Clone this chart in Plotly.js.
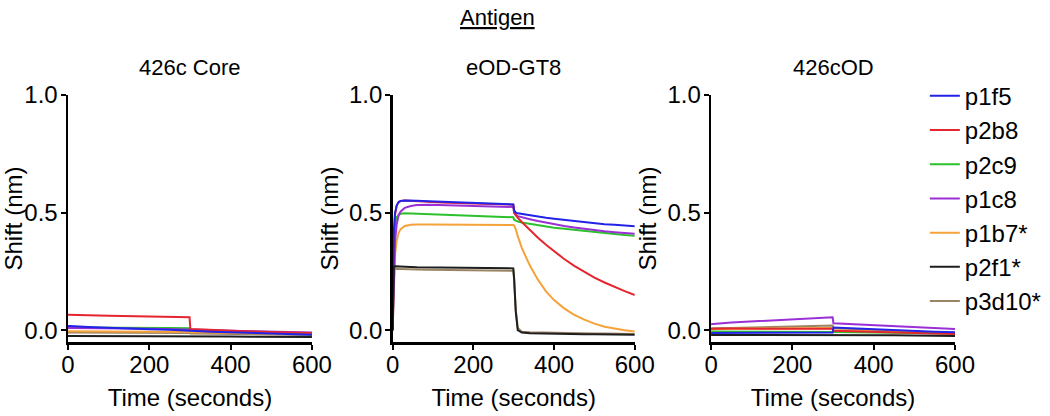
<!DOCTYPE html>
<html>
<head>
<meta charset="utf-8">
<script src="https://cdn.plot.ly/plotly-3.0.1.min.js"></script>
<style>
  body { margin: 0; background: #fff; }
  #chart { width: 1050px; height: 416px; }
</style>
</head>
<body>
<div id="chart"></div>
<script>
// ---- data ----
const names = ['p1f5', 'p2b8', 'p2c9', 'p1c8', 'p1b7*', 'p2f1*', 'p3d10*'];
const colors = ['#2222e8', '#e5262f', '#2cc12c', '#9a2fd6', '#f5a23a', '#1e1e1e', '#9a8464'];
const panelTitles = ['426c Core', 'eOD-GT8', '426cOD'];

// 426c Core
const tCore = [0, 5, 50, 100, 150, 200, 250, 299, 301, 350, 400, 450, 500, 550, 600];
const core_p1f5  = [0.018, 0.018, 0.014, 0.010, 0.007, 0.004, 0.002, 0.000, -0.002, -0.006, -0.009, -0.012, -0.015, -0.017, -0.019];
const core_p2b8  = [0.066, 0.066, 0.064, 0.062, 0.060, 0.058, 0.057, 0.055, 0.005, 0.001, -0.002, -0.005, -0.008, -0.010, -0.012];
const core_p2c9  = [0.012, 0.012, 0.011, 0.010, 0.010, 0.009, 0.009, 0.008, 0.002, -0.002, -0.005, -0.008, -0.010, -0.012, -0.014];
const core_p1c8  = [0.010, 0.010, 0.009, 0.008, 0.007, 0.006, 0.005, 0.005, 0.004, 0.001, -0.002, -0.004, -0.006, -0.008, -0.010];
const core_p1b7  = [-0.004, -0.004, -0.005, -0.005, -0.006, -0.006, -0.007, -0.007, -0.009, -0.010, -0.012, -0.013, -0.014, -0.015, -0.016];
const core_p2f1  = [-0.024, -0.024, -0.024, -0.025, -0.025, -0.025, -0.026, -0.026, -0.026, -0.027, -0.027, -0.028, -0.028, -0.028, -0.029];
const core_p3d10 = [-0.010, -0.010, -0.010, -0.011, -0.011, -0.011, -0.012, -0.012, -0.014, -0.015, -0.016, -0.017, -0.018, -0.019, -0.020];

// eOD-GT8
const tGT8 = [0, 3, 6, 10, 15, 20, 30, 45, 60, 90, 120, 180, 240, 299, 301, 305, 310, 320, 340, 360, 380, 400, 425, 450, 475, 500, 525, 550, 575, 600];
const gt8_p1f5  = [0, 0.42, 0.50, 0.53, 0.545, 0.550, 0.552, 0.552, 0.550, 0.548, 0.546, 0.542, 0.538, 0.535, 0.510, 0.500, 0.497, 0.494, 0.488, 0.483, 0.478, 0.474, 0.469, 0.464, 0.459, 0.455, 0.451, 0.448, 0.445, 0.442];
const gt8_p2b8  = [0, 0.40, 0.49, 0.53, 0.545, 0.550, 0.552, 0.550, 0.548, 0.545, 0.543, 0.540, 0.537, 0.534, 0.500, 0.488, 0.478, 0.460, 0.425, 0.393, 0.363, 0.335, 0.303, 0.274, 0.248, 0.224, 0.203, 0.184, 0.166, 0.150];
const gt8_p2c9  = [0, 0.36, 0.45, 0.48, 0.490, 0.495, 0.497, 0.496, 0.494, 0.492, 0.490, 0.487, 0.484, 0.480, 0.470, 0.465, 0.462, 0.458, 0.452, 0.446, 0.441, 0.436, 0.431, 0.426, 0.421, 0.417, 0.413, 0.409, 0.405, 0.402];
const gt8_p1c8  = [0, 0.25, 0.38, 0.45, 0.490, 0.505, 0.520, 0.528, 0.532, 0.533, 0.532, 0.530, 0.527, 0.524, 0.500, 0.490, 0.485, 0.480, 0.472, 0.464, 0.457, 0.450, 0.443, 0.437, 0.431, 0.426, 0.421, 0.417, 0.413, 0.410];
const gt8_p1b7  = [0, 0.22, 0.32, 0.38, 0.415, 0.430, 0.443, 0.448, 0.450, 0.450, 0.450, 0.449, 0.448, 0.447, 0.445, 0.430, 0.400, 0.350, 0.275, 0.215, 0.165, 0.128, 0.093, 0.065, 0.045, 0.028, 0.015, 0.006, 0.000, -0.005];
const gt8_p2f1  = [0, 0.270, 0.272, 0.272, 0.271, 0.270, 0.270, 0.269, 0.268, 0.267, 0.266, 0.265, 0.264, 0.263, 0.220, 0.080, 0.000, -0.010, -0.013, -0.014, -0.015, -0.015, -0.016, -0.016, -0.017, -0.017, -0.018, -0.018, -0.018, -0.019];
const gt8_p3d10 = [0, 0.258, 0.260, 0.261, 0.260, 0.260, 0.259, 0.258, 0.258, 0.257, 0.256, 0.255, 0.254, 0.253, 0.215, 0.090, 0.010, -0.006, -0.009, -0.010, -0.011, -0.012, -0.012, -0.013, -0.013, -0.014, -0.014, -0.015, -0.015, -0.016];

// 426cOD
const tOD = [0, 5, 50, 100, 150, 200, 250, 299, 301, 350, 400, 450, 500, 550, 600];
const od_p1f5  = [-0.012, -0.012, -0.012, -0.012, -0.011, -0.011, -0.011, -0.010, 0.012, 0.008, 0.004, 0.000, -0.003, -0.006, -0.009];
const od_p2b8  = [0.005, 0.006, 0.007, 0.007, 0.007, 0.006, 0.006, 0.006, -0.002, -0.005, -0.008, -0.010, -0.012, -0.014, -0.016];
const od_p2c9  = [-0.005, -0.005, -0.005, -0.005, -0.005, -0.005, -0.005, -0.005, -0.008, -0.009, -0.010, -0.011, -0.012, -0.013, -0.014];
const od_p1c8  = [0.025, 0.027, 0.033, 0.038, 0.043, 0.047, 0.051, 0.055, 0.030, 0.026, 0.021, 0.016, 0.012, 0.008, 0.005];
const od_p1b7  = [0.003, 0.004, 0.006, 0.007, 0.008, 0.008, 0.009, 0.010, 0.000, -0.003, -0.005, -0.008, -0.010, -0.012, -0.014];
const od_p2f1  = [-0.020, -0.020, -0.020, -0.020, -0.020, -0.020, -0.020, -0.020, -0.018, -0.019, -0.020, -0.021, -0.022, -0.023, -0.024];
const od_p3d10 = [0.008, 0.008, 0.010, 0.012, 0.014, 0.016, 0.018, 0.020, 0.008, 0.004, 0.000, -0.003, -0.006, -0.009, -0.012];

const panels = [
  {t: tCore, ys: [core_p1f5, core_p2b8, core_p2c9, core_p1c8, core_p1b7, core_p2f1, core_p3d10]},
  {t: tGT8,  ys: [gt8_p1f5, gt8_p2b8, gt8_p2c9, gt8_p1c8, gt8_p1b7, gt8_p2f1, gt8_p3d10]},
  {t: tOD,   ys: [od_p1f5, od_p2b8, od_p2c9, od_p1c8, od_p1b7, od_p2f1, od_p3d10]}
];

// draw order: brown under black, everything else in legend order
const drawOrder = [6, 4, 2, 3, 1, 0, 5];

const traces = [];
panels.forEach((p, pi) => {
  const ax = pi === 0 ? '' : String(pi + 1);
  drawOrder.forEach(i => {
    traces.push({
      x: p.t, y: p.ys[i],
      type: 'scatter', mode: 'lines',
      name: names[i],
      legendgroup: names[i],
      legendrank: i + 1,
      showlegend: pi === 2,
      line: {color: colors[i], width: 2},
      xaxis: 'x' + ax, yaxis: 'y' + ax,
      hoverinfo: 'skip'
    });
  });
});

const FONT = 'Liberation Sans, Arial, Helvetica, sans-serif';
const domains = [[0, 0.275], [0.366, 0.639], [0.725, 1]];

function xAxis(i) {
  return {
    domain: domains[i], range: [0, 600], tickvals: [0, 200, 400, 600],
    showline: true, linewidth: 2.5, linecolor: '#000', mirror: false,
    ticks: 'outside', ticklen: 5, tickwidth: 2, tickcolor: '#000',
    ticklabelstandoff: -5,
    showgrid: false, zeroline: false,
    tickfont: {family: FONT, size: 24, color: '#000'},
    title: {text: 'Time (seconds)', font: {family: FONT, size: 24, color: '#000'}, standoff: 12},
    anchor: i === 0 ? 'y' : 'y' + (i + 1)
  };
}
function yAxis(i) {
  return {
    domain: [0, 1], range: [-0.05, 1.0], tickvals: [0, 0.5, 1.0], tickformat: '.1f',
    showline: true, linewidth: 2.5, linecolor: '#000',
    ticks: 'outside', ticklen: 5, tickwidth: 2, tickcolor: '#000',
    ticklabelstandoff: -2,
    showgrid: false, zeroline: false,
    tickfont: {family: FONT, size: 24, color: '#000'},
    title: {text: 'Shift (nm)', font: {family: FONT, size: 24, color: '#000'}, standoff: 4},
    anchor: i === 0 ? 'x' : 'x' + (i + 1)
  };
}

const annotations = [{
  text: '<u>Antigen</u>', xref: 'paper', yref: 'paper', x: 0.484, y: 1.312,
  xanchor: 'center', yanchor: 'middle', showarrow: false,
  font: {family: FONT, size: 22, color: '#000'}
}];
panelTitles.forEach((txt, i) => {
  annotations.push({
    text: txt, xref: 'paper', yref: 'paper',
    x: (domains[i][0] + domains[i][1]) / 2, y: 1.113,
    xanchor: 'center', yanchor: 'middle', showarrow: false,
    font: {family: FONT, size: 22, color: '#000'}
  });
});

const layout = {
  width: 1050, height: 416,
  margin: {l: 68, r: 95, t: 95, b: 74, autoexpand: false},
  paper_bgcolor: '#fff', plot_bgcolor: '#fff',
  font: {family: FONT, color: '#000'},
  showlegend: true,
  legend: {
    x: 0.966, y: 1.086, xanchor: 'left', yanchor: 'top',
    traceorder: 'grouped', tracegroupgap: 0, maxheight: 400,
    font: {family: FONT, size: 24, color: '#000'},
    bgcolor: 'rgba(0,0,0,0)'
  },
  xaxis: xAxis(0), yaxis: yAxis(0),
  xaxis2: xAxis(1), yaxis2: yAxis(1),
  xaxis3: xAxis(2), yaxis3: yAxis(2),
  annotations: annotations
};

Plotly.newPlot('chart', traces, layout, {staticPlot: true});
</script>
</body>
</html>
